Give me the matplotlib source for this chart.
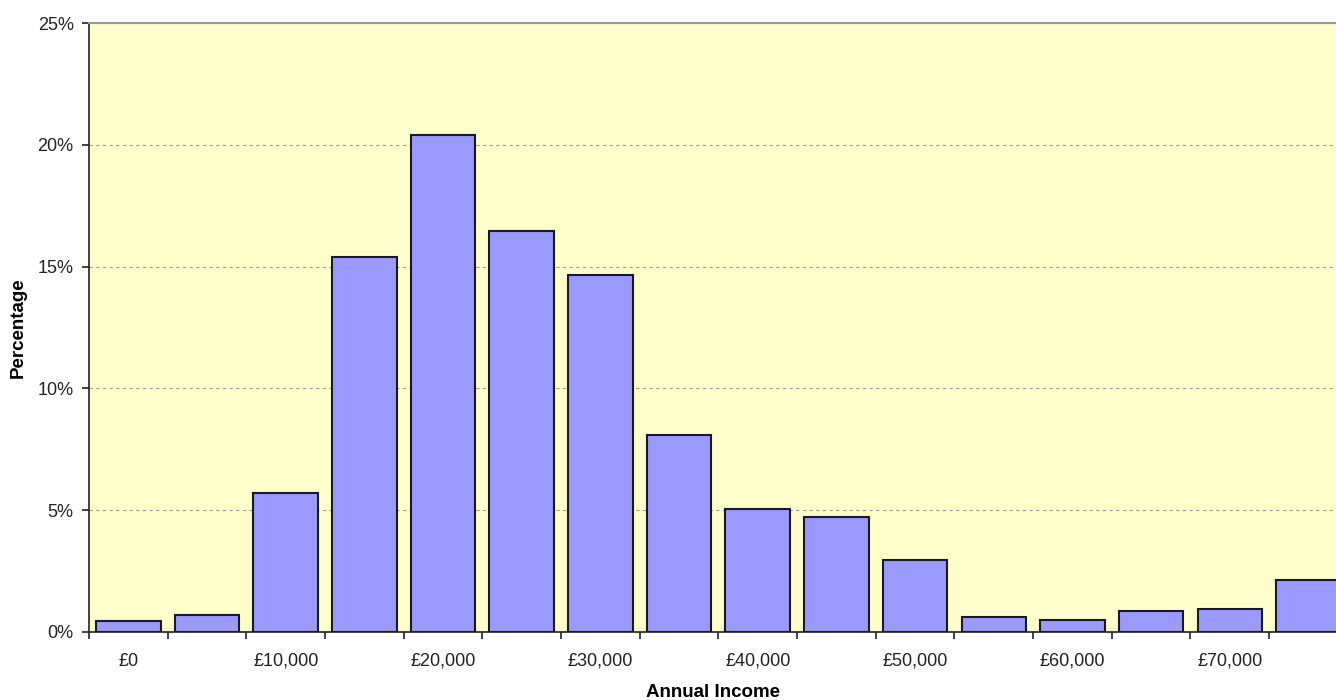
import matplotlib.pyplot as plt
import numpy as np
from matplotlib.ticker import FixedLocator, FuncFormatter

plt.rcParams['font.family'] = ['Liberation Sans', 'DejaVu Sans']

# income bands of £5,000, share of people in each band (%)
band_starts = [0, 5000, 10000, 15000, 20000, 25000, 30000, 35000,
               40000, 45000, 50000, 55000, 60000, 65000, 70000, 75000]
percentages = [0.45, 0.7, 5.7, 15.4, 20.4, 16.45, 14.65, 8.1,
               5.05, 4.72, 2.96, 0.62, 0.49, 0.85, 0.96, 2.12]
y_ticks = [0, 5, 10, 15, 20, 25]

fig = plt.figure(figsize=(13.36, 7), dpi=100)
ax = fig.add_axes([89 / 1336, 68 / 700, 1 - 89 / 1336, 609 / 700])
ax.set_facecolor('#FFFFCC')

x = np.arange(len(band_starts))
ax.bar(x, percentages, width=0.82, color='#9999FF', edgecolor='#1a1a1a',
       linewidth=1.5, zorder=3)

ax.yaxis.set_major_locator(FixedLocator(y_ticks))
ax.yaxis.set_major_formatter(FuncFormatter(lambda v, p: f'{v:.0f}%'))
ax.grid(axis='y', color='#a0a0a0', linestyle=(0, (3, 3)), linewidth=0.8, zorder=1)

# labels on every other band, tick marks between bands
ax.set_xticks(x[::2])
ax.set_xticklabels([f'£{v:,}' for v in band_starts[::2]])
ax.set_xticks(np.arange(-0.5, 16, 1), minor=True)
ax.tick_params(axis='x', which='major', length=0, pad=15, labelsize=13, colors='#222222')
ax.tick_params(axis='x', which='minor', length=5, width=1.2, direction='out', color='#222222')
ax.tick_params(axis='y', length=5, width=1.2, direction='out', labelsize=13,
               colors='#222222', pad=6)

# last band runs off the right edge
ax.set_ylim(0, 25)
ax.set_xlim(-0.5, 15.35)

for side in ['left', 'bottom']:
    ax.spines[side].set_color('#222222')
    ax.spines[side].set_linewidth(1.2)
ax.spines['top'].set_color('#999999')
ax.spines['top'].set_linewidth(1.5)
ax.spines['right'].set_visible(False)

ax.set_xlabel('Annual Income', fontsize=13.5, fontweight='bold', labelpad=10)
ax.set_ylabel('Percentage', fontsize=13.5, fontweight='bold', labelpad=8)

fig.savefig('out.png', dpi=100)
